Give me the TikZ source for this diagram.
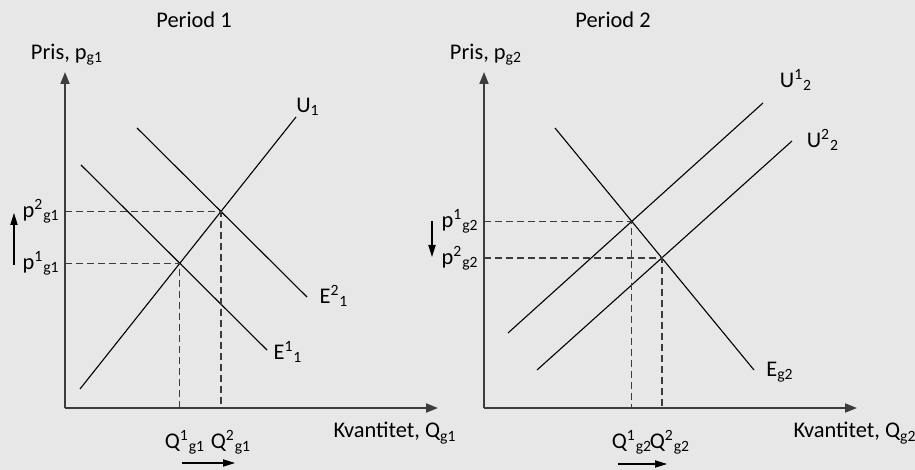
\documentclass[tikz,border=0pt]{standalone}
\usepackage{fontspec}
\setmainfont{Carlito}
\usetikzlibrary{arrows.meta}
\definecolor{bggray}{RGB}{231,231,231}
\definecolor{axisgray}{RGB}{60,60,60}

\begin{document}
\begin{tikzpicture}[
  x=0.5pt, y=-0.5pt,
  every node/.style={font=\fontsize{11.2}{13}\selectfont, inner sep=1pt},
  axisline/.style={draw=axisgray, line width=0.9pt, -{Triangle[length=6pt,width=4.5pt]}},
  curveline/.style={draw=black, line width=0.55pt},
  dashline/.style={draw=axisgray, line width=0.6pt, dash pattern=on 3.5pt off 2pt},
  shiftarr/.style={draw=black, line width=0.6pt, -{Triangle[length=6pt,width=3.6pt]}}
]
% Background and frame
\fill[bggray] (0,0) rectangle (915,470);
\useasboundingbox (0,0) rectangle (915,470);

% ---------- Period 1 ----------
\node (title1) at (194,20) {Period 1};
\node (ylab1) at (67,55) {Pris, p\textsubscript{g1}};
\node (xlab1) at (395,433) {Kvantitet, Q\textsubscript{g1}};

\coordinate (o1) at (65,408);
\coordinate (ytop1) at (65,72);
\coordinate (xend1) at (438,408);
\draw[axisline] (o1) -- (ytop1);
\draw[axisline] (o1) -- (xend1);

% Supply and demand curves
\coordinate (u1a) at (80,389);   \coordinate (u1b) at (296,117);
\coordinate (e11a) at (81,165);  \coordinate (e11b) at (267,350);
\coordinate (e21a) at (137,128); \coordinate (e21b) at (307,297);
\draw[curveline] (u1a) -- (u1b);
\draw[curveline] (e11a) -- (e11b);
\draw[curveline] (e21a) -- (e21b);
\node (lu1) at (308,107) {U\textsubscript{1}};
\node (le11) at (288,352) {E\textsuperscript{1}\textsubscript{1}};
\node (le21) at (334,296) {E\textsuperscript{2}\textsubscript{1}};

% Equilibria
\coordinate (eqa) at (intersection of u1a--u1b and e11a--e11b);
\coordinate (eqb) at (intersection of u1a--u1b and e21a--e21b);
\draw[dashline] (eqa -| o1) -- (eqa) -- (eqa |- o1);
\draw[dashline] (eqb -| o1) -- (eqb) -- (eqb |- o1);
\node[anchor=east] (pa1) at ([xshift=-1.5pt]eqa -| o1) {p\textsuperscript{1}\textsubscript{g1}};
\node[anchor=east] (pb1) at ([xshift=-1.5pt]eqb -| o1) {p\textsuperscript{2}\textsubscript{g1}};
\node (qa1) at (185,442) {Q\textsuperscript{1}\textsubscript{g1}};
\node (qb1) at (231,442) {Q\textsuperscript{2}\textsubscript{g1}};

% Shift arrows
\coordinate (pup0) at (14,265);  \coordinate (pup1) at (14,213);
\coordinate (qr0) at (182,463);  \coordinate (qr1) at (235,463);
\draw[shiftarr] (pup0) -- (pup1);
\draw[shiftarr] (qr0) -- (qr1);

% ---------- Period 2 ----------
\node (title2) at (613,20) {Period 2};
\node (ylab2) at (486,55) {Pris, p\textsubscript{g2}};
\node (xlab2) at (855,433) {Kvantitet, Q\textsubscript{g2}};

\coordinate (o2) at (484,408);
\coordinate (ytop2) at (484,72);
\coordinate (xend2) at (857,408);
\draw[axisline] (o2) -- (ytop2);
\draw[axisline] (o2) -- (xend2);

\coordinate (u12a) at (508,333); \coordinate (u12b) at (763,103);
\coordinate (u22a) at (537,370); \coordinate (u22b) at (792,141);
\coordinate (e2a) at (555,128);  \coordinate (e2b) at (754,370);
\draw[curveline] (u12a) -- (u12b);
\draw[curveline] (u22a) -- (u22b);
\draw[curveline] (e2a) -- (e2b);
\node (lu12) at (796,80) {U\textsuperscript{1}\textsubscript{2}};
\node (lu22) at (823,140) {U\textsuperscript{2}\textsubscript{2}};
\node (le2) at (780,372) {E\textsubscript{g2}};

\coordinate (eqc) at (intersection of u12a--u12b and e2a--e2b);
\coordinate (eqd) at (intersection of u22a--u22b and e2a--e2b);
\draw[dashline] (eqc -| o2) -- (eqc) -- (eqc |- o2);
\draw[dashline] (eqd -| o2) -- (eqd) -- (eqd |- o2);
\node[anchor=east] (pa2) at ([xshift=-1.5pt]eqc -| o2) {p\textsuperscript{1}\textsubscript{g2}};
\node[anchor=east] (pb2) at ([xshift=-1.5pt]eqd -| o2) {p\textsuperscript{2}\textsubscript{g2}};
\node (qa2) at (632,442) {Q\textsuperscript{1}\textsubscript{g2}};
\node (qb2) at (670,442) {Q\textsuperscript{2}\textsubscript{g2}};

\coordinate (pdn0) at (432,221); \coordinate (pdn1) at (432,257);
\coordinate (qr2) at (618,464);  \coordinate (qr3) at (667,464);
\draw[shiftarr] (pdn0) -- (pdn1);
\draw[shiftarr] (qr2) -- (qr3);
\end{tikzpicture}
\end{document}
